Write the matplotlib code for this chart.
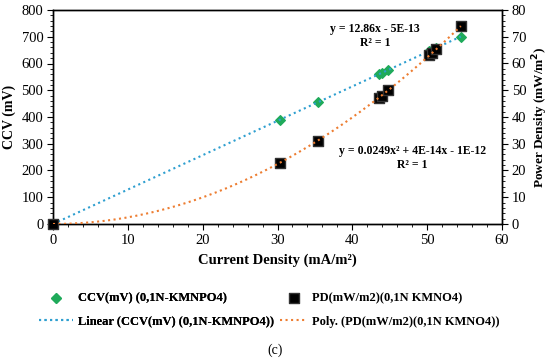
import numpy as np
import matplotlib.pyplot as plt
from matplotlib.ticker import MultipleLocator

# datos
current = [0, 30.3, 35.4, 43.5, 43.9, 44.8, 50.3, 50.6, 51.2, 54.5]
ccv = [0, 390, 455, 559, 565, 576, 647, 651, 658, 700]
pd_vals = [0, 22.9, 31.2, 47.1, 48.0, 50.0, 63.0, 63.8, 65.3, 74.0]

x_ticks = [0, 10, 20, 30, 40, 50, 60]
ccv_ticks = [0, 100, 200, 300, 400, 500, 600, 700, 800]
pd_ticks = [0, 10, 20, 30, 40, 50, 60, 70, 80]

plt.rcParams['font.family'] = ['Liberation Serif', 'DejaVu Serif']
plt.rcParams['font.size'] = 10.5

fig = plt.figure(figsize=(5.5, 3.61), dpi=100)
ax = fig.add_axes([53 / 550, 1 - 224 / 361, (502 - 53) / 550, (224 - 10) / 361])
ax2 = ax.twinx()

green = '#1faa5a'
blue = '#2e9fd0'
orange = '#ed7d31'

# lineas de tendencia
xs = np.linspace(0, max(current), 200)
lin = np.polyfit(current, ccv, 1)
poly = np.polyfit(current, pd_vals, 2)

h1 = ax.scatter(current, ccv, marker='D', s=24, color=green, zorder=3,
                clip_on=False, label='CCV(mV) (0,1N-KMNPO4)')
h3, = ax.plot(xs, np.polyval(lin, xs), ':', color=blue, lw=1.5,
              label='Linear (CCV(mV) (0,1N-KMNPO4))', zorder=4)

h2 = ax2.scatter(current, pd_vals, marker='s', s=60, color='black',
                 edgecolor='#333333', zorder=3, clip_on=False,
                 label='PD(mW/m2)(0,1N KMNO4)')
h4, = ax2.plot(xs, np.polyval(poly, xs), ':', color=orange, lw=1.5,
               label='Poly. (PD(mW/m2)(0,1N KMNO4))', zorder=4)

ax.set_xlim(0, 60)
ax.set_ylim(0, 800)
ax2.set_ylim(0, 80)

ax.set_xticks(x_ticks)
ax.set_yticks(ccv_ticks)
ax2.set_yticks(pd_ticks)
ax.xaxis.set_minor_locator(MultipleLocator(2))
ax.yaxis.set_minor_locator(MultipleLocator(20))
ax2.yaxis.set_minor_locator(MultipleLocator(2))

for a in (ax, ax2):
    a.tick_params(which='major', length=4, width=0.8, direction='out',
                  labelsize=10.5, pad=3)
    a.tick_params(which='minor', length=2.5, width=0.6, direction='out')
    for s in a.spines.values():
        s.set_linewidth(1.0)

ax.set_xlabel('Current Density (mA/m²)', fontweight='bold', labelpad=5)
ax.set_ylabel('CCV (mV)', fontweight='bold', fontsize=10, labelpad=4)
ax2.set_ylabel('Power Density (mW/m$^{\\mathbf{2}}$)', fontweight='bold',
               fontsize=9.5, labelpad=3)

ax.text(0.717, 0.878, 'y = 12.86x - 5E-13\nR² = 1', transform=ax.transAxes,
        ha='center', va='center', fontsize=8.5, fontweight='bold',
        linespacing=1.3)
ax.text(0.80, 0.308, 'y = 0.0249x² + 4E-14x - 1E-12\nR² = 1',
        transform=ax.transAxes, ha='center', va='center', fontsize=8.5,
        fontweight='bold', linespacing=1.3)

leg_kw = dict(frameon=False, prop={'weight': 'bold', 'size': 9},
              borderpad=0, borderaxespad=0, handletextpad=0.4,
              labelspacing=0.9, loc='center left')

leg1 = fig.legend([h1, h3], [h1.get_label(), h3.get_label()],
                  bbox_to_anchor=(39 / 550, 1 - 310 / 361),
                  handlelength=2.7, **leg_kw)
fig.add_artist(leg1)
fig.legend([h2, h4], [h2.get_label(), h4.get_label()],
           bbox_to_anchor=(280 / 550, 1 - 310 / 361),
           handlelength=2.2, **leg_kw)

fig.text(0.5, 1 - 350 / 361, '(c)', ha='center', va='center', fontsize=10)

fig.savefig('out.png', dpi=100)
